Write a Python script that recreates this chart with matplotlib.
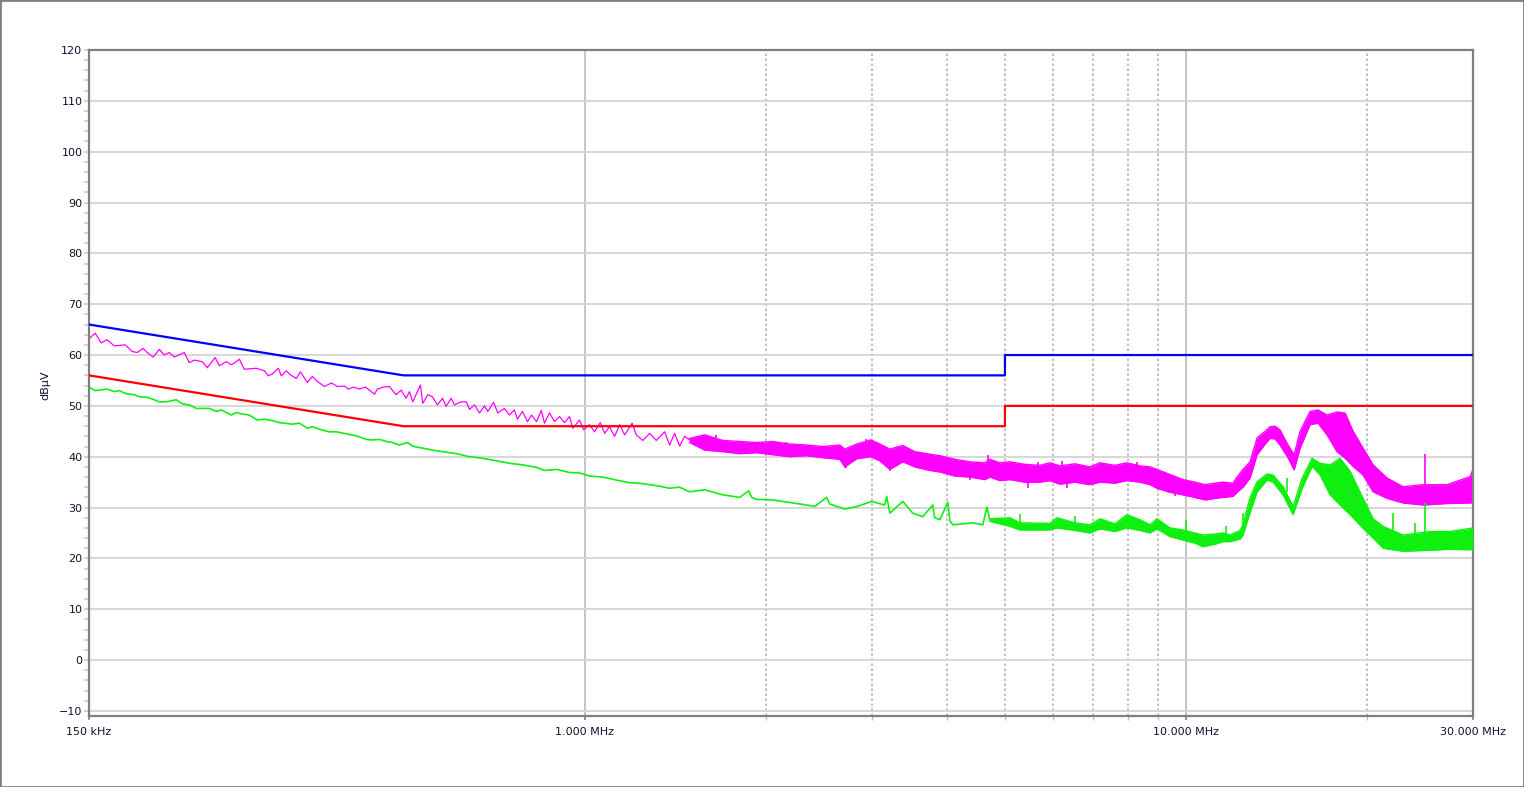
import matplotlib
matplotlib.use('Agg')
import matplotlib.pyplot as plt
from matplotlib.patches import Rectangle
from matplotlib.ticker import FixedLocator, NullFormatter

#%% Limit lines (MHz, dBuV)

qp_limit_f = [0.15, 0.5, 5.0, 5.0, 30.0]
qp_limit_v = [66, 56, 56, 60, 60]
av_limit_f = [0.15, 0.5, 5.0, 5.0, 30.0]
av_limit_v = [56, 46, 46, 50, 50]

#%% Peak trace (magenta), thin part below ~1.5 MHz

peak_f = [0.150, 0.1536, 0.1571, 0.1608, 0.1652, 0.1723, 0.1770, 0.1804, 0.1845, 0.1874,
          0.1918, 0.1963, 0.2001, 0.2040, 0.2079, 0.2160, 0.2202, 0.2245, 0.2314, 0.2359,
          0.2432, 0.2470, 0.2537, 0.2586, 0.2616, 0.2667, 0.2718, 0.2846, 0.2935, 0.2980,
          0.3027, 0.3097, 0.3132, 0.3193, 0.3242, 0.3318, 0.3369, 0.3461, 0.3528, 0.3596,
          0.3694, 0.3794, 0.3882, 0.3989, 0.4050, 0.4128, 0.4224, 0.4323, 0.4390, 0.4475,
          0.4523, 0.4629, 0.4736, 0.4861, 0.4955, 0.5050, 0.5115, 0.5181, 0.5260, 0.5335,
          0.5383, 0.5487, 0.5587, 0.5695, 0.5805, 0.5887, 0.6001, 0.6077, 0.6235, 0.6357,
          0.6437, 0.6561, 0.6688, 0.6818, 0.6906, 0.7058, 0.7176, 0.7358, 0.7500, 0.7645,
          0.7733, 0.7885, 0.8037, 0.8163, 0.8321, 0.8475, 0.8579, 0.8745, 0.8915, 0.9087,
          0.9263, 0.9441, 0.9562, 0.9810, 0.9962, 1.019, 1.039, 1.062, 1.080, 1.100,
          1.122, 1.144, 1.166, 1.200, 1.219, 1.250, 1.283, 1.316, 1.359, 1.385,
          1.412, 1.439, 1.467, 1.495]
peak_v = [63.2, 64.3, 62.4, 63.0, 61.8, 62.0, 60.7, 60.5, 61.3, 60.5,
          59.6, 61.1, 60.0, 60.5, 59.6, 60.5, 58.5, 59.0, 58.7, 57.5,
          59.5, 57.9, 58.7, 58.1, 58.4, 59.2, 57.2, 57.4, 56.9, 55.9,
          56.3, 57.4, 55.9, 56.9, 56.1, 55.4, 56.7, 54.6, 55.8, 54.8,
          53.8, 54.5, 53.8, 53.9, 53.3, 53.7, 53.3, 53.7, 53.1, 52.3,
          53.3, 53.7, 53.8, 52.2, 53.1, 51.5, 52.8, 50.8, 52.5, 54.1,
          50.5, 52.2, 51.8, 50.2, 51.5, 49.9, 51.5, 50.2, 50.8, 50.8,
          49.3, 50.2, 48.6, 50.0, 48.9, 50.7, 48.6, 49.5, 48.2, 49.2,
          47.4, 48.9, 46.9, 48.2, 46.9, 49.1, 46.6, 48.6, 46.9, 47.9,
          46.7, 47.9, 45.6, 47.2, 45.3, 46.3, 44.9, 46.7, 44.6, 45.9,
          44.0, 46.3, 44.3, 46.6, 44.3, 43.2, 44.6, 43.2, 44.9, 42.3,
          44.6, 42.1, 44.0, 43.3]

#%% Peak trace above ~1.5 MHz, read as upper / lower edge of the noise band

peak_band_f = [1.495, 1.584, 1.697, 1.811, 1.933, 2.055, 2.193, 2.341, 2.489, 2.657,
               2.708, 2.835, 2.991, 3.097, 3.218, 3.382, 3.541, 3.750, 3.896, 4.128,
               4.371, 4.630, 4.720, 4.903, 5.095, 5.397, 5.716, 5.939, 6.172, 6.537,
               6.922, 7.194, 7.618, 7.976, 8.385, 8.712, 8.949, 9.406, 9.886, 10.35,
               10.76, 11.18, 11.52, 11.97, 12.16, 12.44, 12.78, 13.13, 13.54, 13.80,
               14.07, 14.33, 14.78, 15.13, 15.48, 16.08, 16.58, 17.16, 17.83, 18.39,
               18.96, 19.70, 20.47, 21.60, 22.96, 24.80, 27.19, 29.69, 30.0]
peak_band_hi = [43.6, 44.3, 43.2, 43.0, 42.8, 43.0, 42.5, 42.3, 42.0, 42.3,
                41.5, 42.5, 43.3, 42.5, 41.5, 42.2, 41.0, 40.5, 40.2, 39.5,
                39.0, 38.8, 39.5, 38.8, 39.0, 38.5, 38.3, 38.8, 38.2, 38.6,
                38.0, 38.8, 38.3, 38.8, 38.2, 38.0, 37.5, 36.5, 35.5, 35.0,
                34.5, 34.8, 35.0, 34.8, 36.0, 37.5, 39.0, 43.7, 45.0, 45.9,
                46.0, 45.3, 42.3, 40.4, 45.0, 48.9, 49.2, 48.2, 48.8, 48.6,
                45.0, 41.7, 38.4, 35.8, 34.1, 34.5, 34.5, 36.1, 37.5]
peak_band_lo = [42.8, 41.3, 41.0, 40.6, 40.8, 40.4, 40.0, 40.2, 39.8, 39.5,
                38.0, 39.6, 40.0, 39.2, 37.5, 39.0, 38.0, 37.3, 37.0, 36.2,
                36.0, 35.5, 36.0, 35.3, 35.5, 35.0, 35.0, 35.3, 34.6, 35.0,
                34.5, 35.0, 34.8, 35.3, 35.0, 34.5, 33.8, 33.0, 32.5, 32.0,
                31.5, 31.8, 32.0, 32.2, 33.0, 34.0, 35.8, 40.4, 42.5, 43.6,
                43.5, 42.3, 39.8, 37.4, 41.7, 46.3, 46.6, 44.3, 41.0, 39.7,
                38.1, 36.4, 33.1, 31.8, 30.9, 30.5, 30.8, 30.9, 31.0]

# single spikes / dips sticking out of the band
peak_spike_f = [1.652, 1.961, 2.079, 2.166, 2.323, 2.674, 2.718, 2.943, 3.218, 3.321,
                3.655, 4.022, 4.371, 4.691, 5.46, 5.678, 6.213, 6.33, 8.28, 9.59,
                10.42, 24.98]
peak_spike_lo = [42.5, 41.5, 41.5, 41.5, 41.0, 40.5, 37.7, 41.0, 37.2, 40.5,
                 39.0, 38.0, 35.5, 38.0, 33.9, 37.0, 37.0, 33.9, 37.0, 32.2,
                 31.7, 33.5]
peak_spike_hi = [44.3, 42.9, 42.9, 42.9, 42.3, 42.0, 39.5, 43.5, 38.5, 42.1,
                 40.7, 39.7, 36.5, 40.3, 35.5, 38.9, 39.2, 35.5, 39.0, 33.5,
                 33.0, 40.6]

#%% Average trace (green), thin part below ~4.7 MHz

avg_f = [0.150, 0.1536, 0.1608, 0.1652, 0.1684, 0.1729, 0.1783, 0.1818, 0.1874, 0.1925,
         0.1963, 0.2016, 0.2095, 0.2143, 0.2202, 0.2262, 0.2377, 0.2442, 0.2489, 0.2586,
         0.2636, 0.2697, 0.2771, 0.2857, 0.2935, 0.3027, 0.3109, 0.3267, 0.3356, 0.3461,
         0.3528, 0.3623, 0.3763, 0.3867, 0.4018, 0.4175, 0.4339, 0.4440, 0.4559, 0.4683,
         0.4792, 0.4922, 0.5075, 0.5173, 0.5253, 0.5377, 0.5587, 0.5805, 0.6124, 0.6437,
         0.6766, 0.7140, 0.7500, 0.7885, 0.8321, 0.8579, 0.8982, 0.9441, 0.9810, 1.019,
         1.072, 1.130, 1.188, 1.249, 1.318, 1.385, 1.439, 1.495, 1.584, 1.697,
         1.811, 1.875, 1.896, 1.933, 2.055, 2.193, 2.341, 2.413, 2.527, 2.556,
         2.708, 2.835, 3.003, 3.156, 3.180, 3.218, 3.382, 3.514, 3.650, 3.793,
         3.822, 3.896, 4.018, 4.049, 4.097, 4.421, 4.594, 4.666, 4.720]
avg_v = [53.7, 53.0, 53.3, 52.8, 53.0, 52.4, 52.2, 51.8, 51.7, 51.2,
         50.8, 50.8, 51.2, 50.4, 50.2, 49.5, 49.5, 48.9, 49.2, 48.2,
         48.7, 48.4, 48.2, 47.2, 47.4, 47.1, 46.7, 46.4, 46.6, 45.6,
         45.9, 45.4, 44.9, 44.9, 44.5, 44.1, 43.4, 43.3, 43.4, 43.0,
         42.8, 42.3, 42.8, 42.1, 41.9, 41.7, 41.3, 41.0, 40.6, 40.0,
         39.7, 39.2, 38.7, 38.4, 37.9, 37.3, 37.5, 36.9, 36.8, 36.2,
         36.0, 35.4, 34.9, 34.7, 34.3, 33.8, 34.0, 33.1, 33.5, 32.5,
         32.0, 33.3, 32.0, 31.6, 31.5, 31.0, 30.5, 30.2, 32.0, 30.7,
         29.7, 30.2, 31.2, 30.5, 32.2, 28.9, 31.2, 28.9, 28.2, 30.5,
         28.0, 27.6, 31.0, 27.4, 26.6, 27.0, 26.6, 30.1, 27.6]

#%% Average trace above ~4.7 MHz, upper / lower edge of the band

avg_band_f = [4.720, 5.095, 5.295, 5.939, 6.102, 6.537, 6.922, 7.194, 7.618, 7.976,
              8.385, 8.712, 8.949, 9.406, 9.886, 10.35, 10.67, 11.18, 11.52, 11.84,
              12.30, 12.44, 12.78, 13.13, 13.64, 13.96, 14.50, 15.07, 15.60, 16.21,
              16.71, 17.36, 18.04, 18.75, 19.70, 20.47, 21.27, 22.96, 25.47, 27.50,
              29.69, 30.0]
avg_band_hi = [27.8, 28.0, 27.0, 26.9, 28.0, 27.0, 26.6, 27.8, 26.8, 28.6,
               27.6, 26.6, 27.8, 26.0, 25.6, 25.0, 24.6, 24.8, 25.0, 24.6,
               25.5, 26.6, 32.0, 35.1, 36.6, 36.4, 34.1, 30.2, 35.8, 39.7,
               38.7, 38.4, 39.7, 37.1, 31.8, 27.8, 26.3, 24.6, 25.3, 25.3,
               25.9, 26.0]
avg_band_lo = [27.3, 26.3, 25.6, 25.6, 26.0, 25.5, 25.0, 25.8, 25.3, 26.0,
               25.5, 25.0, 25.8, 24.3, 23.6, 23.0, 22.3, 22.8, 23.3, 23.3,
               23.8, 24.6, 29.0, 33.1, 35.4, 35.0, 32.5, 28.6, 33.8, 38.1,
               36.4, 32.5, 30.5, 28.6, 25.9, 24.0, 22.0, 21.4, 21.6, 21.8,
               21.7, 21.8]
avg_spike_f = [5.295, 6.537, 10.0, 11.65, 12.44, 14.72, 22.11, 24.04, 24.98]
avg_spike_lo = [26.0, 27.0, 24.0, 24.0, 25.0, 33.0, 23.0, 23.0, 23.0]
avg_spike_hi = [28.8, 28.4, 27.6, 26.3, 28.9, 35.8, 28.9, 26.9, 30.9]

#%% Axis ticks

x_ticks = [0.15, 1.0, 10.0, 30.0]
x_tick_labels = ['150 kHz', '1.000 MHz', '10.000 MHz', '30.000 MHz']
x_minor = [2, 3, 4, 5, 6, 7, 8, 9, 20]
y_ticks = list(range(-10, 121, 10))
y_minor = list(range(-10, 121, 2))

#%% Plot

magenta = '#ff00ff'
green = '#10f010'

fig = plt.figure(figsize=(15.24, 7.87), dpi=100)
ax = fig.add_axes([0.0584, 0.0902, 0.9081, 0.8463])
ax.set_xscale('log')

ax.plot(peak_f, peak_v, color=magenta, lw=0.9, zorder=2)
ax.fill_between(peak_band_f, peak_band_lo, peak_band_hi, color=magenta, lw=0, zorder=2)
ax.plot(peak_band_f, peak_band_hi, color=magenta, lw=1.0, zorder=2)
ax.plot(peak_band_f, peak_band_lo, color=magenta, lw=1.0, zorder=2)
ax.vlines(peak_spike_f, peak_spike_lo, peak_spike_hi, color=magenta, lw=1.2, zorder=2)

ax.plot(avg_f, avg_v, color=green, lw=1.2, zorder=3)
ax.fill_between(avg_band_f, avg_band_lo, avg_band_hi, color=green, lw=0, zorder=3)
ax.plot(avg_band_f, avg_band_hi, color=green, lw=1.0, zorder=3)
ax.plot(avg_band_f, avg_band_lo, color=green, lw=1.0, zorder=3)
ax.vlines(avg_spike_f, avg_spike_lo, avg_spike_hi, color=green, lw=1.2, zorder=3)

ax.plot(qp_limit_f, qp_limit_v, color='#0000ff', lw=1.6, zorder=4)
ax.plot(av_limit_f, av_limit_v, color='#ff0000', lw=1.6, zorder=4)

ax.set_xlim(0.15, 30)
ax.set_ylim(-11, 120)

ax.xaxis.set_major_locator(FixedLocator(x_ticks))
ax.xaxis.set_minor_locator(FixedLocator(x_minor))
ax.set_xticklabels(x_tick_labels)
ax.xaxis.set_minor_formatter(NullFormatter())
ax.set_yticks(y_ticks)
ax.yaxis.set_minor_locator(FixedLocator(y_minor))

ax.yaxis.grid(True, color='#d4d4d4', lw=1.3, zorder=0)
ax.xaxis.grid(True, which='major', color='#c0c0c0', lw=1.3, zorder=0)
ax.xaxis.grid(True, which='minor', color='#b4b4b4', lw=1.2, ls=(0, (1.5, 1.5)), zorder=0)
ax.set_axisbelow(True)

ax.tick_params(axis='y', which='both', direction='out', length=3.3, width=1.2,
               color='#cccccc', pad=1.5, labelsize=8, labelcolor='#101030')
ax.tick_params(axis='x', which='major', direction='out', length=3, width=1.2,
               color='#808080', pad=5, labelsize=8, labelcolor='#101030')
ax.tick_params(axis='x', which='minor', direction='out', length=3, width=1.0,
               color='#c0c0c0')

for sp in ax.spines.values():
    sp.set_color('#7f7f7f')
    sp.set_linewidth(1.6)

fig.text(45 / 1524, 1 - 385 / 787, 'dBµV', rotation=90, ha='center', va='center',
         fontsize=8, color='#101030')

fig.patches.append(Rectangle((0, 0), 1, 1, transform=fig.transFigure, fill=False,
                             edgecolor='#808080', lw=2))

fig.savefig('out.png', dpi=100)
